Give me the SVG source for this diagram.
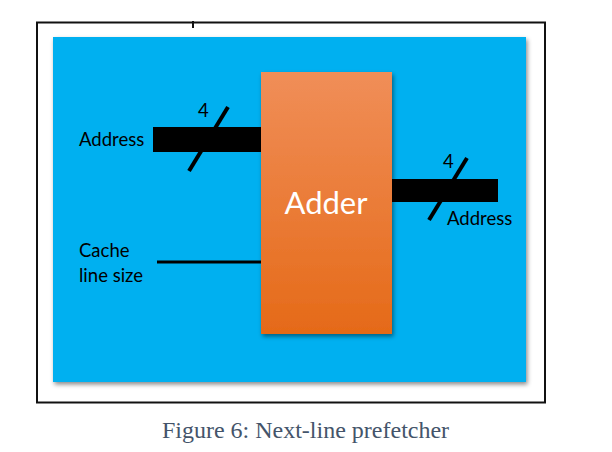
<svg xmlns="http://www.w3.org/2000/svg" width="612" height="452" viewBox="0 0 612 452">
<defs>
<linearGradient id="og" x1="0" y1="0" x2="0" y2="1">
<stop offset="0" stop-color="#F08E58"/>
<stop offset="1" stop-color="#E56A18"/>
</linearGradient>
<filter id="sh" x="-10%" y="-10%" width="125%" height="125%">
<feDropShadow dx="1.5" dy="2.5" stdDeviation="2" flood-color="#000" flood-opacity="0.45"/>
</filter>
<style>
.lbl{font-family:Lato,"Open Sans","Liberation Sans",sans-serif;font-size:18.5px;fill:#000}
.bus{fill:#000}
.slash{stroke:#000;stroke-width:4;fill:none}
</style>
</defs>
<rect width="612" height="452" fill="#fff"/>
<g id="frame">
<rect x="37" y="22.5" width="508" height="380" fill="none" stroke="#111" stroke-width="2"/>
<line x1="193" y1="21" x2="193" y2="28" stroke="#111" stroke-width="2"/>
</g>
<g id="background">
<rect x="53" y="37" width="473" height="345" fill="#00B0F0" filter="url(#sh)"/>
</g>
<g id="connectors">
<rect class="bus" x="153" y="127" width="108" height="25"/>
<line class="slash" x1="228" y1="107" x2="189" y2="171"/>
<rect class="bus" x="392" y="179" width="106" height="23"/>
<line class="slash" x1="467" y1="158" x2="429" y2="220"/>
<line x1="157" y1="262" x2="261" y2="262" stroke="#000" stroke-width="3"/>
</g>
<g id="adder">
<rect x="261" y="72" width="131" height="262" fill="url(#og)" filter="url(#sh)"/>
<text x="326" y="214" text-anchor="middle" font-family="Lato,'Open Sans','Liberation Sans',sans-serif" font-size="31" fill="#fff">Adder</text>
</g>
<g id="labels">
<text class="lbl" x="79" y="146">Address</text>
<text class="lbl" x="198" y="117">4</text>
<text class="lbl" x="443" y="168">4</text>
<text class="lbl" x="447" y="225">Address</text>
<text class="lbl" x="79" y="257">Cache</text>
<text class="lbl" x="79" y="282">line size</text>
</g>
<g id="caption">
<text x="305.5" y="438" text-anchor="middle" font-family="'Liberation Serif','Times New Roman',serif" font-size="24" fill="#44546A">Figure 6: Next-line prefetcher</text>
</g>
</svg>
